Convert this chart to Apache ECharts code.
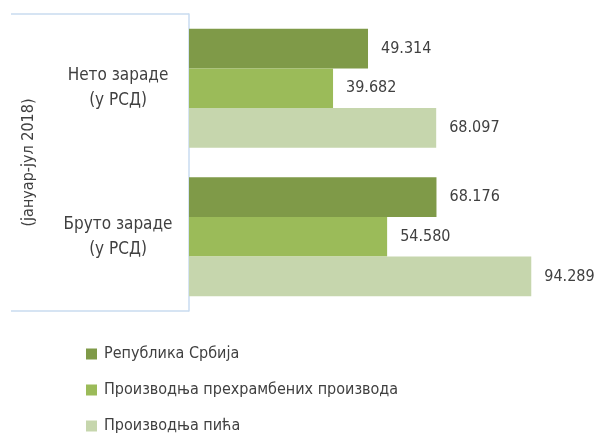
<!DOCTYPE html>
<html>
<head>
<meta charset="utf-8">
<script src="https://cdn.jsdelivr.net/npm/echarts@6/dist/echarts.min.js"></script>
<style>html,body{margin:0;padding:0;background:#fff}#c{width:599px;height:442px}</style>
</head>
<body>
<div id="c"></div>
<script>
const categories = ['Нето зараде\n(у РСД)', 'Бруто зараде\n(у РСД)'];
const seriesNames = ['Република Србија', 'Производња прехрамбених производа', 'Производња пића'];
const republikaSrbija = [49314, 68176];
const prehrambeni = [39682, 54580];
const pica = [68097, 94289];
const axisTitle = '(јануар-јул 2018)';
const colors = ['#7f9a48', '#9bbb59', '#c6d6ad'];
const FONT = "'Liberation Sans Narrow', 'DejaVu Sans Condensed', sans-serif";
const TXT = '#404040';

function fmt(v) { return String(v).replace(/\B(?=(\d{3})+(?!\d))/g, '.'); }

const chart = echarts.init(document.getElementById('c'));
const dataSets = [republikaSrbija, prehrambeni, pica];
chart.setOption({
  animation: false,
  textStyle: { fontFamily: FONT },
  color: colors,
  grid: { left: 189, top: 14, bottom: 131, right: 47, containLabel: false },
  legend: {
    orient: 'vertical', left: 86, top: 345, padding: 0,
    itemWidth: 11, itemHeight: 11, itemGap: 18,
    icon: 'rect',
    textStyle: { fontFamily: FONT, fontSize: 16, lineHeight: 18, color: TXT, padding: [0, 0, 0, 2] },
    data: seriesNames
  },
  xAxis: { type: 'value', min: 0, max: 100000, show: false },
  yAxis: {
    type: 'category', inverse: true, data: categories,
    name: axisTitle, nameLocation: 'middle', nameRotate: 90, nameGap: 152,
    nameTextStyle: { fontFamily: FONT, fontSize: 16, color: TXT },
    axisLine: { show: true, lineStyle: { color: '#c9dbf0', width: 1.5 } },
    axisTick: { show: true, interval: 1, length: 178, lineStyle: { color: '#c9dbf0', width: 1.5 } },
    axisLabel: { fontFamily: FONT, fontSize: 17, color: TXT, align: 'center', margin: 71, lineHeight: 25, padding: [2, 0, 0, 0] }
  },
  series: dataSets.map((d, i) => ({
    name: seriesNames[i], type: 'bar', data: d,
    barGap: '0%', barCategoryGap: '20%',
    itemStyle: { color: colors[i] },
    label: { show: true, position: 'right', distance: 13, fontFamily: FONT, fontSize: 16, color: TXT,
      formatter: p => fmt(p.value) }
  }))
});
</script>
</body>
</html>
